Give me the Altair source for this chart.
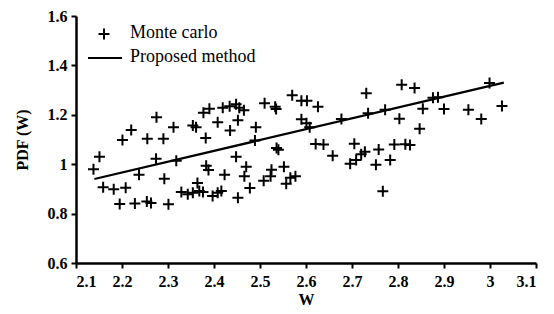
import altair as alt
import pandas as pd

# Monte carlo samples (W, PDF)
mc_w = [2.138, 2.151, 2.159, 2.182, 2.208, 2.195, 2.201, 2.220, 2.228, 2.237,
        2.254, 2.263, 2.255, 2.274, 2.275, 2.290, 2.292, 2.301, 2.312, 2.318,
        2.329, 2.343, 2.354, 2.364, 2.368, 2.354, 2.361, 2.382, 2.377, 2.390,
        2.383, 2.388, 2.376, 2.397, 2.408, 2.416, 2.423, 2.408, 2.419, 2.434,
        2.448, 2.455, 2.465, 2.435, 2.452, 2.448, 2.452, 2.466, 2.470, 2.478,
        2.491, 2.489, 2.510, 2.533, 2.508, 2.523, 2.525, 2.552, 2.557, 2.566,
        2.577, 2.536, 2.540, 2.535, 2.570, 2.590, 2.602, 2.626, 2.590, 2.601,
        2.608, 2.621, 2.638, 2.658, 2.677, 2.696, 2.709, 2.720, 2.728, 2.705,
        2.731, 2.735, 2.752, 2.758, 2.772, 2.783, 2.792, 2.816, 2.826, 2.803,
        2.808, 2.836, 2.767, 2.847, 2.854, 2.876, 2.887, 2.900, 2.953, 2.981,
        2.999, 3.026]
mc_pdf = [0.980, 1.030, 0.907, 0.899, 0.905, 0.839, 1.098, 1.138, 0.841, 0.957,
          0.849, 0.843, 1.103, 1.022, 1.190, 1.103, 0.941, 0.838, 1.150, 1.014,
          0.887, 0.878, 0.884, 0.924, 0.891, 1.157, 1.150, 1.106, 1.208, 1.224,
          0.994, 0.977, 0.887, 0.871, 0.884, 0.891, 0.957, 1.170, 1.229, 1.235,
          1.243, 1.229, 1.218, 1.136, 1.178, 1.030, 0.864, 0.951, 0.990, 0.904,
          1.150, 1.096, 1.247, 1.233, 0.933, 0.951, 0.978, 0.990, 0.921, 0.945,
          0.951, 1.066, 1.058, 1.223, 1.279, 1.257, 1.257, 1.233, 1.182, 1.166,
          1.150, 1.082, 1.080, 1.034, 1.183, 1.002, 1.017, 1.040, 1.050, 1.083,
          1.287, 1.206, 0.998, 1.060, 1.220, 1.017, 1.080, 1.081, 1.078, 1.184,
          1.322, 1.309, 0.890, 1.144, 1.224, 1.269, 1.271, 1.223, 1.220, 1.183,
          1.329, 1.236]

# Proposed method (straight line)
line_w = [2.14, 3.03]
line_pdf = [0.94, 1.33]

x_ticks = [2.1, 2.2, 2.3, 2.4, 2.5, 2.6, 2.7, 2.8, 2.9, 3.0, 3.1]
y_ticks = [0.6, 0.8, 1.0, 1.2, 1.4, 1.6]

FONT = "Liberation Serif"
PLUS = "M-1,0L1,0M0,-1L0,1"

mc_df = pd.DataFrame({"W": mc_w, "PDF": mc_pdf})
line_df = pd.DataFrame({"W": line_w, "PDF": line_pdf})

x_enc = alt.X("W:Q", scale=alt.Scale(domain=[2.1, 3.1], nice=False, zero=False),
              axis=alt.Axis(values=x_ticks, format="~g", title="W"))
y_enc = alt.Y("PDF:Q", scale=alt.Scale(domain=[0.6, 1.6], nice=False, zero=False),
              axis=alt.Axis(values=y_ticks, format="~g", title="PDF (W)"))

points = alt.Chart(mc_df).mark_point(
    shape=PLUS, filled=False, color="black", strokeWidth=2, size=121, opacity=1
).encode(x=x_enc, y=y_enc)

line = alt.Chart(line_df).mark_line(color="black", strokeWidth=2.2).encode(
    x=alt.X("W:Q"), y=alt.Y("PDF:Q"))

one = alt.Data(values=[{"a": 1}])
leg_pt = alt.Chart(one).mark_point(
    shape=PLUS, filled=False, color="black", strokeWidth=2, size=121, opacity=1
).encode(x=alt.value(28), y=alt.value(18))
leg_rule = alt.Chart(one).mark_rule(color="black", strokeWidth=2).encode(
    x=alt.value(12), x2=alt.value(46), y=alt.value(42))
leg_t1 = alt.Chart(one).mark_text(
    align="left", baseline="middle", font=FONT, fontSize=18, color="black"
).encode(x=alt.value(54), y=alt.value(17), text=alt.value("Monte carlo"))
leg_t2 = alt.Chart(one).mark_text(
    align="left", baseline="middle", font=FONT, fontSize=18, color="black"
).encode(x=alt.value(54), y=alt.value(41), text=alt.value("Proposed method"))

chart = alt.layer(points, line, leg_pt, leg_rule, leg_t1, leg_t2).properties(
    width=460, height=247,
    autosize=alt.AutoSizeParams(type="none"),
    padding={"left": 68, "top": 8, "right": 10, "bottom": 48},
).configure_view(stroke=None).configure_axis(
    grid=False,
    domainColor="black", domainWidth=2.5,
    tickColor="black", tickWidth=2, tickSize=5,
    labelFont=FONT, labelFontSize=16, labelFontWeight="bold", labelColor="black",
    titleFont=FONT, titleFontSize=16, titleFontWeight="bold", titleColor="black",
).configure_axisX(labelPadding=5, titlePadding=2).configure_axisY(
    labelPadding=4, titlePadding=17)

chart.save("out.html", embed_options={"renderer": "svg", "actions": False})
